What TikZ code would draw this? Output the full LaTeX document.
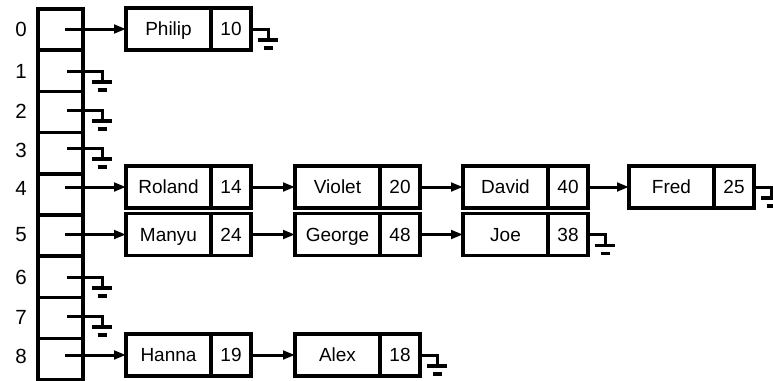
\documentclass[tikz,border=0pt]{standalone}
\usepackage{fontspec}
\setmainfont{Liberation Sans}
\usetikzlibrary{arrows.meta}
\newcommand\groundat[2]{%
  \draw[wire] #1 -- ++(#2,0) -- ++(0,11);
  \draw[gbar] #1 ++({#2-10},11) -- ++(20,0);
  \draw[gbar] #1 ++({#2-4.5},19) -- ++(9,0);
}
\begin{document}
\begin{tikzpicture}[x=1pt,y=-1pt,
  box/.style={draw,line width=3.6pt,minimum height=42pt,inner sep=0pt,outer sep=0pt,text height=13.6pt,text depth=0pt,font=\fontsize{19}{22}\selectfont},
  namecell/.style={box,minimum width=85pt},
  numcell/.style={box,minimum width=40pt,anchor=west},
  arr/.style={line width=3pt,-{Triangle[length=12pt,width=8.5pt]}},
  wire/.style={line width=3pt},
  gbar/.style={line width=3.5pt},
  idx/.style={font=\fontsize{20.5}{24}\selectfont},
  cellbox/.style={draw,line width=3.6pt,minimum width=45pt,minimum height=41.2pt,inner sep=0pt,outer sep=0pt}]
\useasboundingbox (0,0) rectangle (773,380);

% array cells
\foreach \k in {0,...,8}{
  \node[cellbox] (c\k) at (60.5,{29.6+41.2*\k}) {};
}
% index labels
\node[idx] (l0) at (21,29) {0};
\node[idx] (l1) at (21,71) {1};
\node[idx] (l2) at (21,111) {2};
\node[idx] (l3) at (21,150) {3};
\node[idx] (l4) at (21,188) {4};
\node[idx] (l5) at (21,235) {5};
\node[idx] (l6) at (21,277) {6};
\node[idx] (l7) at (21,317) {7};
\node[idx] (l8) at (21,356) {8};

% pointer starts
\coordinate (p0) at (65,29);
\coordinate (p1) at (67,71);
\coordinate (p2) at (67,110);
\coordinate (p3) at (67,148);
\coordinate (p4) at (65,187);
\coordinate (p5) at (65,234.5);
\coordinate (p6) at (67,277);
\coordinate (p7) at (67,316);
\coordinate (p8) at (65,355);

% row 0
\node[namecell] (philip) at (168.5,29) {Philip};
\node[numcell] (philipn) at (philip.east) {10};

% row 4
\node[namecell] (roland) at (168.5,187) {Roland};
\node[numcell] (rolandn) at (roland.east) {14};
\node[namecell] (violet) at (337.5,187) {Violet};
\node[numcell] (violetn) at (violet.east) {20};
\node[namecell] (david) at (505.5,187) {David};
\node[numcell] (davidn) at (david.east) {40};
\node[namecell] (fred) at (671.5,187) {Fred};
\node[numcell] (fredn) at (fred.east) {25};

% row 5
\node[namecell] (manyu) at (168.5,234.5) {Manyu};
\node[numcell] (manyun) at (manyu.east) {24};
\node[namecell] (george) at (337.5,234.5) {George};
\node[numcell] (georgen) at (george.east) {48};
\node[namecell] (joe) at (505.5,234.5) {Joe};
\node[numcell] (joen) at (joe.east) {38};

% row 8
\node[namecell] (hanna) at (168.5,355) {Hanna};
\node[numcell] (hannan) at (hanna.east) {19};
\node[namecell] (alex) at (337.5,355) {Alex};
\node[numcell] (alexn) at (alex.east) {18};

% arrows
\draw[arr] (p0) -- (philip.west);
\draw[arr] (p4) -- (roland.west);
\draw[arr] (rolandn.east) -- (violet.west);
\draw[arr] (violetn.east) -- (david.west);
\draw[arr] (davidn.east) -- (fred.west);
\draw[arr] (p5) -- (manyu.west);
\draw[arr] (manyun.east) -- (george.west);
\draw[arr] (georgen.east) -- (joe.west);
\draw[arr] (p8) -- (hanna.west);
\draw[arr] (hannan.east) -- (alex.west);

% null grounds
\groundat{(p1)}{35}
\groundat{(p2)}{35}
\groundat{(p3)}{35}
\groundat{(p6)}{35}
\groundat{(p7)}{35}
\groundat{(philipn.east)}{17}
\groundat{(fredn.east)}{17}
\groundat{(joen.east)}{17}
\groundat{(alexn.east)}{17}
\end{tikzpicture}
\end{document}
